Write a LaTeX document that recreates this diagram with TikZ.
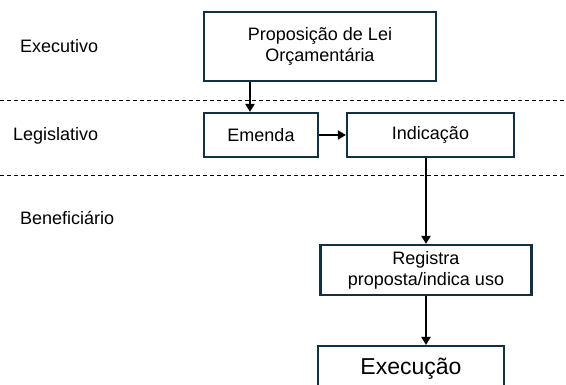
\documentclass[tikz,border=0pt]{standalone}
\usepackage{fontspec}
\setmainfont{Liberation Sans}
\usepackage{xcolor}
\usepackage{tikz}
\usetikzlibrary{arrows.meta,positioning}
\definecolor{boxline}{HTML}{12303F}

\begin{document}
\begin{tikzpicture}[x=1pt ,y=-1pt ,font=\fontsize{18}{21}\selectfont ,arr/.style ={-{Triangle[width=9pt,length=8pt]} ,line width=2pt} ,box/.style ={draw=boxline ,line width=2.2pt ,fill=white ,align=center ,inner sep=2pt} ,sep/.style ={dash pattern=on 4pt off 3pt ,line width=0.8pt} ,lane/.style ={anchor=west ,inner sep=0pt}]
\useasboundingbox (0,0) rectangle (566,385);
% lanes
\draw[sep] (0,100) -- (566,100);
\draw[sep] (0,175) -- (566,175);
\node[lane] (exe) at (20,46) {Executivo};
\node[lane] (leg) at (13,136) {Legislativo};
\node[lane] (ben) at (20,218) {Beneficiário};
% boxes
\node[box ,minimum width=232pt ,minimum height=69pt] (prop) at (320,46.5) {Proposição de Lei\\Orçamentária};
\node[box ,minimum width=114pt ,minimum height=44pt] (emenda) at (261,135) {Emenda};
\node[box ,minimum width=167pt ,minimum height=44pt] (indic) at (430.5,135) {Indicação};
\node[box ,minimum width=211pt ,minimum height=50pt] (regist) at (426,270) {Registra\\proposta/indica uso};
\node[box ,anchor=north ,minimum width=186pt ,inner ysep=6pt ,text height=22pt ,text depth=30pt ,font=\fontsize{23}{27}\selectfont] (exec) at (411,345) {Execução};
% flow
\draw[arr] ([xshift=-11pt]emenda.north |- prop.south) -- ([xshift=-11pt]emenda.north);
\draw[arr] (emenda.east) -- (indic.west);
\draw[arr] (regist.north |- indic.south) -- (regist.north);
\draw[arr] (regist.south) -- (regist.south |- exec.north);
\end{tikzpicture}
\end{document}
